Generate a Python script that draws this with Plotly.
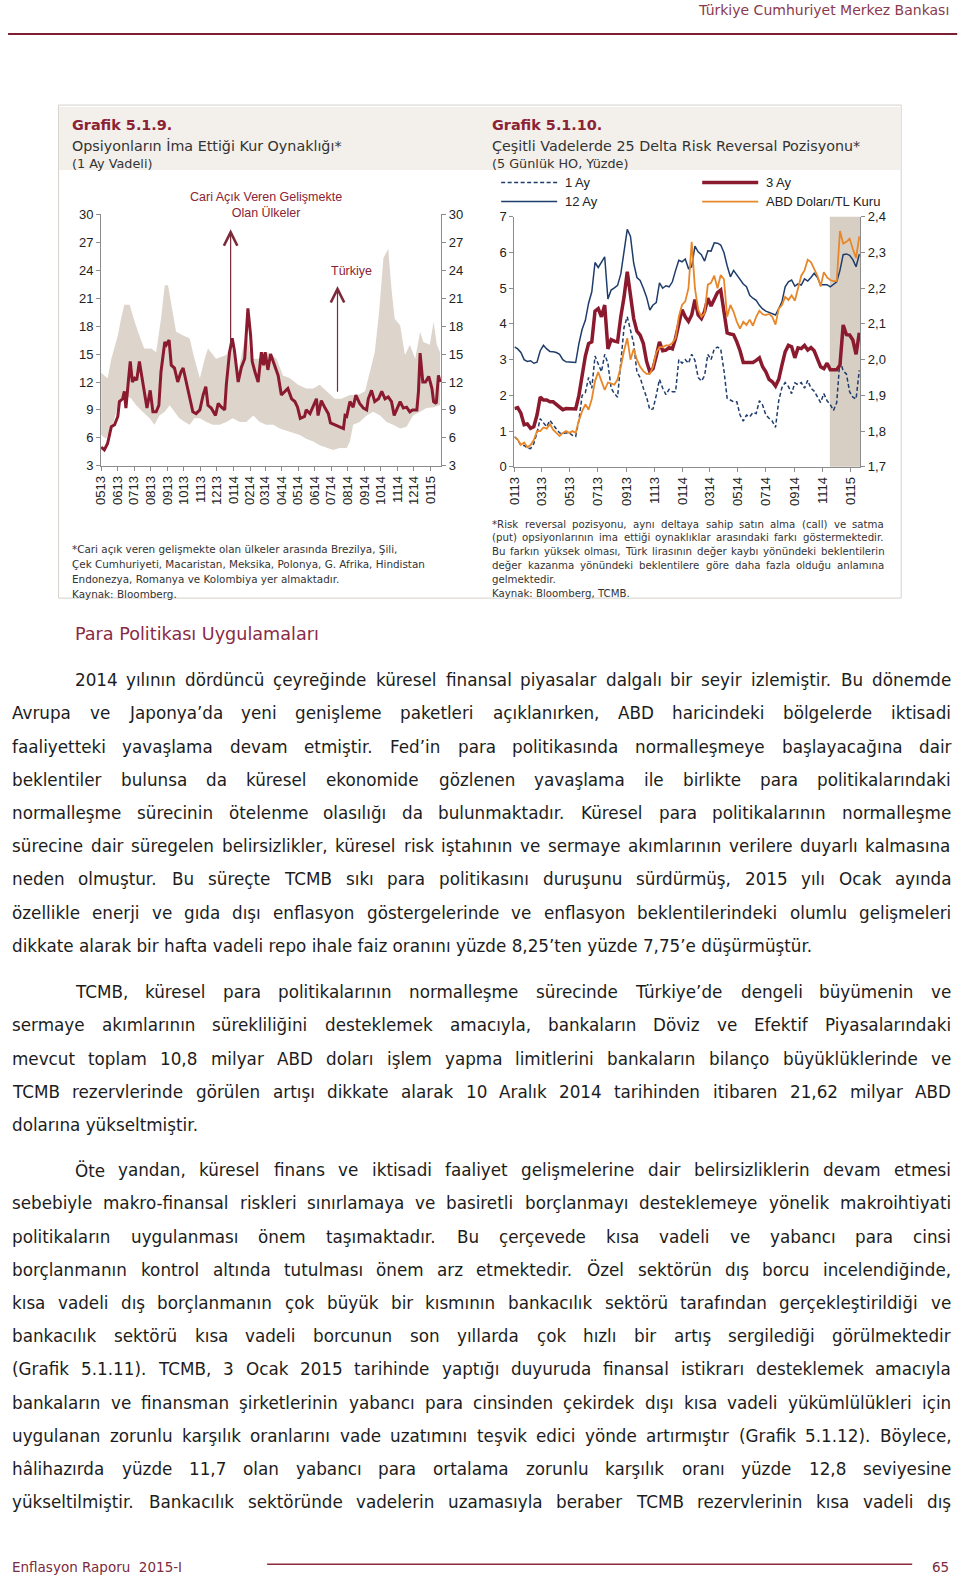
"""
TCMB Enflasyon Raporu 2015-I, sayfa 65: Grafik 5.1.9 ve 5.1.10 ile metin.
"""

import pandas as pd
import plotly.graph_objects as go

FIG_W = 960
FIG_H = 1595
# the photo of the page comes out slightly shrunk and offset; page positions below are
# mapped into figure pixels with the measured offset and scale
PHOTO_SCALE_X = 0.9915
PHOTO_SCALE_Y = 0.9905
PHOTO_OFFSET_X = 8
PHOTO_OFFSET_Y = 7

# ~~~~ Grafik 5.1.9: Türkiye ve cari açık veren GOÜ'ler (1 ay vadeli ima edilen oynaklık)
TR_DATES = [
    "2013-05-01", "2013-05-07", "2013-05-13", "2013-05-20", "2013-05-26", "2013-06-01",
    "2013-06-04", "2013-06-10", "2013-06-13", "2013-06-16", "2013-06-21", "2013-06-24",
    "2013-06-28", "2013-07-02", "2013-07-06", "2013-07-11", "2013-07-16", "2013-07-22",
    "2013-07-25", "2013-07-31", "2013-08-05", "2013-08-11", "2013-08-16", "2013-08-20",
    "2013-08-27", "2013-08-30", "2013-09-04", "2013-09-08", "2013-09-14", "2013-09-20",
    "2013-09-26", "2013-09-30", "2013-10-06", "2013-10-12", "2013-10-18", "2013-10-24",
    "2013-10-31", "2013-11-06", "2013-11-11", "2013-11-15", "2013-11-21", "2013-11-29",
    "2013-12-04", "2013-12-10", "2013-12-16", "2013-12-19", "2013-12-25", "2013-12-30",
    "2014-01-03", "2014-01-10", "2014-01-16", "2014-01-22", "2014-01-26", "2014-01-28",
    "2014-02-02", "2014-02-05", "2014-02-10", "2014-02-16", "2014-02-22", "2014-02-26",
    "2014-03-01", "2014-03-06", "2014-03-11", "2014-03-19", "2014-03-25", "2014-03-31",
    "2014-04-06", "2014-04-12", "2014-04-19", "2014-04-25", "2014-04-30", "2014-05-05",
    "2014-05-13", "2014-05-16", "2014-05-23", "2014-05-29", "2014-06-04", "2014-06-07",
    "2014-06-13", "2014-06-20", "2014-06-26", "2014-06-30", "2014-07-08", "2014-07-17",
    "2014-07-24", "2014-07-27", "2014-07-30", "2014-08-05", "2014-08-11", "2014-08-16",
    "2014-08-23", "2014-08-30", "2014-09-05", "2014-09-08", "2014-09-14", "2014-09-20",
    "2014-09-27", "2014-10-03", "2014-10-09", "2014-10-15", "2014-10-21", "2014-10-26",
    "2014-10-29", "2014-11-06", "2014-11-12", "2014-11-18", "2014-11-24", "2014-11-29",
    "2014-12-07", "2014-12-10", "2014-12-13", "2014-12-18", "2014-12-23", "2014-12-29",
    "2015-01-04", "2015-01-07", "2015-01-12", "2015-01-16", "2015-01-19",
]
TR_VALUES = [
    5.0, 4.7, 5.4, 7.2, 7.4, 8.3,
    9.9, 10.2, 11.0, 9.2, 12.4, 14.2,
    12.0, 12.4, 12.2, 14.2, 12.4, 10.2,
    9.2, 11.1, 8.8, 8.8, 9.5, 13.1,
    16.3, 16.0, 16.5, 13.8, 13.5, 12.0,
    13.1, 13.5, 12.0, 10.4, 8.8, 8.6,
    9.0, 10.6, 11.5, 9.5, 9.2, 8.4,
    9.7, 9.3, 9.0, 11.7, 15.2, 16.7,
    15.4, 12.0, 13.6, 14.5, 18.1, 19.9,
    17.0, 14.2, 13.1, 12.0, 15.2, 13.8,
    15.2, 13.3, 15.0, 13.8, 12.7, 10.6,
    11.0, 11.3, 10.2, 9.9, 9.3, 8.1,
    8.3, 9.0, 8.6, 9.5, 10.2, 8.4,
    10.0, 9.2, 8.6, 7.6, 7.4, 7.2,
    7.0, 8.4, 8.3, 9.9, 9.3, 10.6,
    9.7, 9.2, 9.0, 10.2, 11.1, 9.9,
    10.2, 11.0, 10.2, 10.4, 9.9, 8.4,
    8.8, 9.9, 9.2, 9.3, 8.8, 9.0,
    9.0, 11.0, 15.1, 12.0, 12.0, 12.6,
    11.3, 9.9, 9.7, 12.7, 12.0,
]

BAND_UP_DATES = [
    "2013-05-01", "2013-05-13", "2013-05-20", "2013-06-01", "2013-06-07", "2013-06-13",
    "2013-06-23", "2013-07-02", "2013-07-11", "2013-07-20", "2013-08-02", "2013-08-11",
    "2013-08-20", "2013-08-27", "2013-09-02", "2013-09-08", "2013-09-17", "2013-09-30",
    "2013-10-12", "2013-10-21", "2013-10-31", "2013-11-09", "2013-11-15", "2013-11-30",
    "2013-12-19", "2013-12-28", "2014-01-10", "2014-01-25", "2014-02-03", "2014-02-19",
    "2014-03-06", "2014-03-22", "2014-04-03", "2014-04-16", "2014-05-01", "2014-05-16",
    "2014-05-29", "2014-06-10", "2014-06-23", "2014-07-08", "2014-07-20", "2014-08-05",
    "2014-08-20", "2014-09-02", "2014-09-11", "2014-09-20", "2014-09-28", "2014-10-06",
    "2014-10-15", "2014-10-21", "2014-10-27", "2014-11-06", "2014-11-15", "2014-11-24",
    "2014-12-04", "2014-12-13", "2014-12-19", "2014-12-31", "2015-01-07", "2015-01-13",
    "2015-01-19",
]
BAND_UP_VALUES = [
    13.0, 12.4, 14.5, 17.0, 18.8, 20.3,
    20.3, 18.5, 17.0, 15.6, 15.6, 15.2,
    18.8, 22.4, 22.4, 20.3, 17.4, 17.0,
    16.7, 14.5, 12.4, 14.5, 15.6, 14.5,
    14.9, 16.0, 13.1, 17.4, 14.5, 14.5,
    15.2, 14.5, 12.7, 12.4, 11.7, 11.3,
    11.3, 11.7, 11.0, 10.2, 10.2, 10.6,
    10.6, 11.0, 13.1, 15.2, 19.5, 25.3,
    26.3, 22.0, 18.8, 18.1, 14.9, 16.0,
    14.5, 17.4, 16.3, 16.0, 18.5, 16.0,
    15.2,
]
BAND_LO_DATES = [
    "2013-05-01", "2013-05-10", "2013-05-23", "2013-06-01", "2013-06-10", "2013-06-16",
    "2013-06-26", "2013-07-05", "2013-07-17", "2013-07-30", "2013-08-08", "2013-08-17",
    "2013-08-27", "2013-09-05", "2013-09-14", "2013-09-23", "2013-10-03", "2013-10-12",
    "2013-10-21", "2013-10-31", "2013-11-12", "2013-11-24", "2013-12-07", "2013-12-19",
    "2013-12-31", "2014-01-13", "2014-01-25", "2014-02-07", "2014-02-19", "2014-03-03",
    "2014-03-16", "2014-03-28", "2014-04-09", "2014-04-22", "2014-05-04", "2014-05-16",
    "2014-05-29", "2014-06-10", "2014-06-23", "2014-07-05", "2014-07-17", "2014-07-30",
    "2014-08-05", "2014-08-11", "2014-08-23", "2014-09-05", "2014-09-17", "2014-09-30",
    "2014-10-12", "2014-10-24", "2014-11-06", "2014-11-18", "2014-11-30", "2014-12-13",
    "2014-12-25", "2015-01-07", "2015-01-19",
]
BAND_LO_VALUES = [
    6.3, 5.9, 7.4, 9.5, 10.2, 10.6,
    10.2, 9.5, 8.8, 8.1, 7.4, 8.4,
    8.8, 9.5, 8.8, 8.1, 7.7, 7.4,
    8.1, 8.1, 7.7, 7.4, 7.4, 7.7,
    8.1, 7.7, 7.7, 8.4, 7.7, 7.4,
    7.4, 7.0, 6.8, 6.5, 6.3, 5.9,
    5.6, 5.2, 4.9, 4.7, 4.9, 4.9,
    5.6, 7.4, 7.7, 8.4, 8.8, 8.4,
    7.7, 7.4, 7.0, 7.2, 8.4, 8.8,
    9.2, 9.3, 9.5,
]
LEFT_X_RANGE = ["2013-05-01", "2015-01-21"]

# ~~~~ Grafik 5.1.10: 25 delta risk reversal (haftalık okumalar) ve ABD doları/TL
RR_START = "2013-01-01"
RR_WEEKS = 108
RR_12M = [
    3.36, 3.30, 3.20, 3.00, 2.95, 2.97, 2.90, 2.93, 3.25, 3.40,
    3.30, 3.23, 3.22, 3.20, 3.15, 3.00, 2.94, 2.93, 2.92, 2.92,
    3.45, 3.85, 4.10, 4.58, 4.90, 5.72, 5.58, 5.74, 5.88, 4.70,
    4.95, 5.01, 5.08, 5.40, 6.10, 6.65, 6.45, 5.70, 5.30, 5.22,
    5.00, 4.75, 4.39, 4.53, 4.60, 5.15, 5.00, 5.07, 5.04, 5.18,
    5.50, 5.78, 5.74, 5.82, 5.55, 5.60, 6.18, 6.02, 5.94, 5.76,
    6.05, 6.04, 6.27, 6.26, 6.21, 6.00, 5.63, 5.32, 5.50, 5.37,
    5.23, 5.12, 5.04, 4.80, 4.72, 4.66, 4.52, 4.42, 4.36, 4.32,
    4.29, 4.25, 4.43, 4.62, 5.04, 5.18, 5.23, 5.06, 5.12, 5.09,
    5.26, 5.20, 5.30, 5.42, 5.30, 5.10, 5.10, 5.10, 5.04, 5.10,
    5.18, 5.50, 5.94, 5.96, 5.92, 5.80, 5.60, 5.95,
]
RR_3M = [
    1.63, 1.66, 1.50, 1.18, 1.20, 1.08, 1.12, 1.45, 1.95, 1.87,
    1.87, 1.82, 1.82, 1.75, 1.70, 1.60, 1.63, 1.63, 1.61, 1.62,
    2.00, 2.60, 3.10, 3.45, 3.50, 4.36, 4.43, 4.20, 4.53, 3.30,
    3.56, 3.52, 3.50, 4.20, 4.75, 5.46, 4.80, 4.15, 3.80, 3.69,
    3.45, 2.95, 2.66, 2.75, 3.10, 3.50, 3.25, 3.27, 3.34, 3.30,
    3.60, 4.05, 4.40, 4.20, 4.07, 4.25, 4.68, 4.25, 4.15, 4.35,
    4.72, 4.50, 4.70, 4.88, 4.95, 4.30, 3.75, 3.72, 3.70, 3.50,
    3.25, 2.92, 2.92, 2.90, 2.92, 2.98, 3.05, 2.80, 2.66, 2.45,
    2.38, 2.26, 2.45, 2.85, 3.22, 3.40, 3.36, 3.05, 3.33, 3.31,
    3.40, 3.27, 3.34, 3.25, 3.00, 2.80, 2.75, 2.90, 2.72, 2.71,
    2.72, 2.85, 3.97, 3.70, 3.69, 3.55, 3.15, 3.75,
]
RR_1M = [
    0.84, 0.76, 0.60, 0.60, 0.52, 0.51, 0.65, 0.95, 1.35, 1.25,
    1.12, 1.30, 1.17, 1.06, 0.95, 0.93, 0.95, 0.95, 0.88, 0.85,
    1.30, 2.00, 2.08, 2.50, 2.20, 3.10, 2.88, 2.66, 3.15, 2.90,
    2.20, 2.05, 1.95, 2.90, 3.90, 4.20, 3.85, 3.45, 2.65, 2.50,
    2.20, 1.95, 1.60, 1.62, 2.00, 2.45, 2.20, 2.02, 2.17, 2.10,
    2.10, 3.00, 2.90, 3.00, 2.90, 3.15, 2.98, 2.50, 2.40, 2.55,
    3.15, 3.00, 3.30, 3.35, 3.30, 2.70, 1.92, 1.87, 1.82, 1.82,
    1.45, 1.28, 1.45, 1.40, 1.52, 1.49, 1.85, 1.73, 1.45, 1.36,
    1.28, 1.10, 1.85, 2.22, 2.36, 2.25, 2.05, 2.35, 2.30, 2.36,
    2.20, 2.42, 2.20, 2.12, 1.95, 1.80, 2.05, 1.85, 1.74, 1.58,
    1.80, 3.00, 2.68, 2.60, 2.10, 1.95, 1.90, 2.70,
]
USDTRY = [
    1.784, 1.776, 1.762, 1.768, 1.755, 1.761, 1.775, 1.800, 1.800, 1.810,
    1.807, 1.820, 1.804, 1.795, 1.786, 1.795, 1.800, 1.795, 1.800, 1.795,
    1.830, 1.856, 1.875, 1.860, 1.890, 1.940, 1.965, 1.940, 1.915, 1.936,
    1.932, 1.930, 1.945, 1.980, 2.025, 2.060, 2.000, 2.030, 2.000, 1.980,
    1.968, 1.960, 1.960, 1.980, 2.020, 2.035, 2.035, 2.040, 2.040, 2.047,
    2.060, 2.120, 2.153, 2.163, 2.200, 2.330, 2.200, 2.140, 2.120, 2.130,
    2.210, 2.215, 2.235, 2.200, 2.237, 2.225, 2.120, 2.153, 2.134, 2.106,
    2.087, 2.106, 2.097, 2.112, 2.095, 2.120, 2.137, 2.127, 2.125, 2.128,
    2.120, 2.098, 2.143, 2.153, 2.176, 2.167, 2.180, 2.165, 2.200, 2.235,
    2.250, 2.280, 2.273, 2.255, 2.235, 2.205, 2.245, 2.230, 2.223, 2.220,
    2.220, 2.360, 2.325, 2.330, 2.339, 2.310, 2.285, 2.345,
]
RIGHT_X_RANGE = ["2013-01-01", "2015-01-22"]
SHADE_RANGE = ["2014-11-17", "2015-01-22"]

# ~~~~ page text
HEADER = "Türkiye Cumhuriyet Merkez Bankası"
FOOTER_LEFT = "Enflasyon Raporu  2015-I"
FOOTER_PAGE = "65"
HEADING = "Para Politikası Uygulamaları"

LEFT_TITLE = ["Grafik 5.1.9.", "Opsiyonların İma Ettiği Kur Oynaklığı*", "(1 Ay Vadeli)"]
RIGHT_TITLE = ["Grafik 5.1.10.", "Çeşitli Vadelerde 25 Delta Risk Reversal Pozisyonu*",
               "(5 Günlük HO, Yüzde)"]
LEFT_NOTES = [
    "*Cari açık veren gelişmekte olan ülkeler arasında Brezilya, Şili,",
    "Çek Cumhuriyeti, Macaristan, Meksika, Polonya, G. Afrika, Hindistan",
    "Endonezya, Romanya ve Kolombiya yer almaktadır.",
    "Kaynak: Bloomberg.",
]
RIGHT_NOTES = [
    "*Risk reversal pozisyonu, aynı deltaya sahip satın alma (call) ve satma",
    "(put) opsiyonlarının ima ettiği oynaklıklar arasındaki farkı göstermektedir.",
    "Bu farkın yüksek olması, Türk lirasının değer kaybı yönündeki beklentilerin",
    "değer kazanma yönündeki beklentilere göre daha fazla olduğu anlamına",
    "gelmektedir.",
    "Kaynak: Bloomberg, TCMB.",
]
PARAGRAPHS = [
    [
        "2014 yılının dördüncü çeyreğinde küresel finansal piyasalar dalgalı bir seyir izlemiştir. Bu dönemde",
        "Avrupa ve Japonya’da yeni genişleme paketleri açıklanırken, ABD haricindeki bölgelerde iktisadi",
        "faaliyetteki yavaşlama devam etmiştir. Fed’in para politikasında normalleşmeye başlayacağına dair",
        "beklentiler bulunsa da küresel ekonomide gözlenen yavaşlama ile birlikte para politikalarındaki",
        "normalleşme sürecinin ötelenme olasılığı da bulunmaktadır. Küresel para politikalarının normalleşme",
        "sürecine dair süregelen belirsizlikler, küresel risk iştahının ve sermaye akımlarının verilere duyarlı kalmasına",
        "neden olmuştur. Bu süreçte TCMB sıkı para politikasını duruşunu sürdürmüş, 2015 yılı Ocak ayında",
        "özellikle enerji ve gıda dışı enflasyon göstergelerinde ve enflasyon beklentilerindeki olumlu gelişmeleri",
        "dikkate alarak bir hafta vadeli repo ihale faiz oranını yüzde 8,25’ten yüzde 7,75’e düşürmüştür.",
    ],
    [
        "TCMB, küresel para politikalarının normalleşme sürecinde Türkiye’de dengeli büyümenin ve",
        "sermaye akımlarının sürekliliğini desteklemek amacıyla, bankaların Döviz ve Efektif Piyasalarındaki",
        "mevcut toplam 10,8 milyar ABD doları işlem yapma limitlerini bankaların bilanço büyüklüklerinde ve",
        "TCMB rezervlerinde görülen artışı dikkate alarak 10 Aralık 2014 tarihinden itibaren 21,62 milyar ABD",
        "dolarına yükseltmiştir.",
    ],
    [
        "Öte yandan, küresel finans ve iktisadi faaliyet gelişmelerine dair belirsizliklerin devam etmesi",
        "sebebiyle makro-finansal riskleri sınırlamaya ve basiretli borçlanmayı desteklemeye yönelik makroihtiyati",
        "politikaların uygulanması önem taşımaktadır. Bu çerçevede kısa vadeli ve yabancı para cinsi",
        "borçlanmanın kontrol altında tutulması önem arz etmektedir. Özel sektörün dış borcu incelendiğinde,",
        "kısa vadeli dış borçlanmanın çok büyük bir kısmının bankacılık sektörü tarafından gerçekleştirildiği ve",
        "bankacılık sektörü kısa vadeli borcunun son yıllarda çok hızlı bir artış sergilediği görülmektedir",
        "(Grafik 5.1.11). TCMB, 3 Ocak 2015 tarihinde yaptığı duyuruda finansal istikrarı desteklemek amacıyla",
        "bankaların ve finansman şirketlerinin yabancı para cinsinden çekirdek dışı kısa vadeli yükümlülükleri için",
        "uygulanan zorunlu karşılık oranlarını vade uzatımını teşvik edici yönde artırmıştır (Grafik 5.1.12). Böylece,",
        "hâlihazırda yüzde 11,7 olan yabancı para ortalama zorunlu karşılık oranı yüzde 12,8 seviyesine",
        "yükseltilmiştir. Bankacılık sektöründe vadelerin uzamasıyla beraber TCMB rezervlerinin kısa vadeli dış",
    ],
]
PARAGRAPH_TOPS = [680, 992, 1170]
LINE_STEP = 33.2
# last line of a paragraph is not justified (the page cut keeps the last one justified)
PARAGRAPH_ENDS = [True, True, False]

MAROON = "#8b1a2f"
TITLE_RED = "#8b2335"
NAVY = "#1f3d6b"
ORANGE = "#e8872a"
BAND = "#ddd5cc"
SHADE = "#d8cfc4"
TEXT = "#1c1c1c"
BODY_FONT = "DejaVu Sans"
CHART_FONT = "Arial, Liberation Sans, sans-serif"

# approximate DejaVu Sans advance widths (em) for justification
CHAR_W = {" ": .318, ",": .318, ".": .318, "’": .318, "'": .275, "(": .390, ")": .390,
          "-": .361, "/": .337, "*": .5, ":": .337}
CHAR_W.update({c: .636 for c in "0123456789"})
CHAR_W.update(dict(zip("abcdefghijklmnopqrstuvwxyz",
                       [.613, .635, .550, .635, .615, .352, .635, .634, .278, .278, .579, .278, .974,
                        .634, .612, .635, .635, .411, .521, .392, .634, .592, .818, .592, .592, .525])))
CHAR_W.update(dict(zip("ABCDEFGHIJKLMNOPRSTUVYZ",
                       [.684, .686, .698, .770, .632, .575, .775, .752, .295, .295, .656, .557, .863,
                        .748, .787, .603, .695, .635, .611, .732, .684, .611, .685])))
CHAR_W.update({"ı": .278, "İ": .295, "ç": .550, "Ç": .698, "ğ": .635, "ö": .612, "Ö": .787,
               "ş": .521, "Ş": .635, "ü": .634, "Ü": .732, "â": .613})


def em_width(word):
    return sum(CHAR_W.get(ch, .6) for ch in word)


def fx(x):
    """page pixel -> paper x"""
    return (x / PHOTO_SCALE_X - PHOTO_OFFSET_X) / FIG_W


def fy(y):
    """page pixel -> paper y"""
    return 1 - (y / PHOTO_SCALE_Y - PHOTO_OFFSET_Y) / FIG_H


def add_text(fig, text, x, y, size, color, family=BODY_FONT, anchor="left", bold=False):
    if bold:
        text = "<b>" + text + "</b>"
    fig.add_annotation(x=fx(x), y=fy(y), xref="paper", yref="paper", text=text, showarrow=False,
                       xanchor=anchor, yanchor="middle", borderpad=0,
                       font=dict(size=size, color=color, family=family))


def add_line_text(fig, text, x0, x1, y, size, color, justify=True):
    """place one printed line, spreading the words over [x0, x1] when justified"""
    words = text.split(" ")
    if not justify or len(words) < 2:
        add_text(fig, text, x0, y, size, color)
        return
    base = [em_width(w) for w in words]
    total = sum(base)
    min_gap = 0.22
    if (total + min_gap * (len(words) - 1)) * size > x1 - x0:
        size = (x1 - x0) / (total + min_gap * (len(words) - 1))
    gap = (x1 - x0 - total * size) / (len(words) - 1)
    xpos = x0
    for word, width in zip(words, base):
        add_text(fig, word, xpos, y, size, color)
        xpos += width * size + gap


def page_line(fig, x0, x1, y, color, width, dash="solid"):
    fig.add_shape(type="line", xref="paper", yref="paper", x0=fx(x0), x1=fx(x1),
                  y0=fy(y), y1=fy(y), line=dict(color=color, width=width, dash=dash))


def main():
    """main program"""
    rr_dates = pd.date_range(RR_START, periods=RR_WEEKS, freq="7D")

    fig = go.Figure()

    # ~~~~ left chart
    fig.add_trace(go.Scatter(
        x=BAND_UP_DATES + BAND_LO_DATES[::-1],
        y=BAND_UP_VALUES + BAND_LO_VALUES[::-1],
        fill="toself", fillcolor=BAND, line=dict(width=0), mode="lines",
        name="Cari Açık Veren Gelişmekte Olan Ülkeler", xaxis="x", yaxis="y"))
    fig.add_trace(go.Scatter(
        x=TR_DATES, y=TR_VALUES, mode="lines", name="Türkiye",
        line=dict(color=MAROON, width=3), xaxis="x", yaxis="y2"))

    # ~~~~ right chart
    fig.add_trace(go.Scatter(x=rr_dates, y=RR_12M, mode="lines", name="12 Ay",
                             line=dict(color=NAVY, width=1.5), xaxis="x2", yaxis="y3"))
    fig.add_trace(go.Scatter(x=rr_dates, y=RR_1M, mode="lines", name="1 Ay",
                             line=dict(color=NAVY, width=1.5, dash="4px,2.5px"),
                             xaxis="x2", yaxis="y3"))
    fig.add_trace(go.Scatter(x=rr_dates, y=USDTRY, mode="lines", name="ABD Doları/TL Kuru",
                             line=dict(color=ORANGE, width=1.8), xaxis="x2", yaxis="y4"))
    fig.add_trace(go.Scatter(x=rr_dates, y=RR_3M, mode="lines", name="3 Ay",
                             line=dict(color=MAROON, width=3.5), xaxis="x2", yaxis="y3"))

    axis_common = dict(showline=True, linecolor="#8c8c8c", linewidth=1, ticks="outside",
                       ticklen=4, tickcolor="#8c8c8c", showgrid=False, zeroline=False,
                       tickfont=dict(family=CHART_FONT, size=13, color="#222222"))
    x_common = dict(axis_common, type="date", tickformat="%m%y", tickangle=-90)

    fig.update_layout(
        width=FIG_W, height=FIG_H, margin=dict(l=0, r=0, t=0, b=0),
        paper_bgcolor="white", plot_bgcolor="rgba(0,0,0,0)", showlegend=False,
        separators=", ",
        xaxis=dict(x_common, domain=[fx(101), fx(441)], range=LEFT_X_RANGE,
                   dtick="M1", tick0="2013-05-01", anchor="y"),
        yaxis=dict(axis_common, domain=[fy(465.7), fy(214.3)],
                   range=[3, 30], dtick=3, anchor="x"),
        yaxis2=dict(axis_common, overlaying="y", side="right", range=[3, 30], dtick=3,
                    anchor="x"),
        xaxis2=dict(x_common, domain=[fx(514.3), fx(860)], range=RIGHT_X_RANGE,
                    dtick="M2", tick0="2013-01-01", anchor="y3"),
        yaxis3=dict(axis_common, domain=[fy(466.7), fy(216.7)],
                    range=[0, 7], dtick=1, anchor="x2"),
        yaxis4=dict(axis_common, overlaying="y3", side="right", range=[1.7, 2.4], dtick=0.1,
                    tickformat=".1f", anchor="x2"),
    )

    # ~~~~ page frame
    page_line(fig, 8, 957, 34, "#7d1f31", 2)
    fig.add_shape(type="rect", xref="paper", yref="paper", layer="below",
                  x0=fx(58.5), x1=fx(901), y0=fy(598), y1=fy(105),
                  line=dict(color="#d6d1cb", width=1), fillcolor="white")
    fig.add_shape(type="rect", xref="paper", yref="paper", layer="below",
                  x0=fx(59), x1=fx(900.5), y0=fy(170), y1=fy(107),
                  line=dict(width=0), fillcolor="#f3f0ec")
    fig.add_shape(type="rect", xref="x2", yref="y3 domain", layer="below",
                  x0=SHADE_RANGE[0], x1=SHADE_RANGE[1], y0=0, y1=1,
                  line=dict(width=0), fillcolor=SHADE)
    page_line(fig, 267, 912, 1564, "#8b2a3a", 1.5)

    add_text(fig, HEADER, 950, 9.5, 14, "#8a3a4c", anchor="right")
    add_text(fig, FOOTER_LEFT, 11, 1567, 13.5, "#7a2c3e")
    add_text(fig, FOOTER_PAGE, 950, 1567, 13.5, "#7a2c3e", anchor="right")

    # ~~~~ chart titles and notes
    for title, x0 in ((LEFT_TITLE, 71), (RIGHT_TITLE, 491)):
        add_text(fig, title[0], x0, 124.5, 14.4, TITLE_RED, bold=True)
        add_text(fig, title[1], x0, 145.5, 14.3, "#333333")
        add_text(fig, title[2], x0, 163, 12.8, "#333333")

    for i, note in enumerate(LEFT_NOTES):
        add_text(fig, note, 71, 549 + i * 15, 10.4, "#333333")
    for i, note in enumerate(RIGHT_NOTES):
        add_line_text(fig, note, 491, 883, 524 + i * 13.8, 10.2, "#333333", justify=i < 4)

    # ~~~~ chart 5.1.9 annotations
    add_text(fig, "Cari Açık Veren Gelişmekte<br>Olan Ülkeler", 266, 205, 12.5, TITLE_RED,
             family=CHART_FONT, anchor="center")
    add_text(fig, "Türkiye", 351, 271, 12.5, TITLE_RED, family=CHART_FONT, anchor="center")
    for tip, tail in ((("2013-12-27", 28.4), ("2013-12-27", 15.6)),
                      (("2014-07-13", 22.3), ("2014-07-13", 10.8))):
        fig.add_annotation(x=tip[0], y=tip[1], ax=tail[0], ay=tail[1], xref="x", yref="y",
                           axref="x", ayref="y", text="", showarrow=True, arrowhead=5,
                           arrowsize=2.2, arrowwidth=1.2, arrowcolor="#7a2a3a", standoff=0)

    # ~~~~ chart 5.1.10 legend
    legend_items = [("1 Ay", NAVY, 1.5, "4px,2.5px", 501, 182.5),
                    ("12 Ay", NAVY, 1.5, "solid", 501, 201.5),
                    ("3 Ay", MAROON, 3.5, "solid", 702, 182.5),
                    ("ABD Doları/TL Kuru", ORANGE, 1.8, "solid", 702, 201.5)]
    for label, color, width, dash, x0, y0 in legend_items:
        page_line(fig, x0, x0 + 56, y0, color, width, dash)
        add_text(fig, label, x0 + 63, y0, 13, "#222222", family=CHART_FONT)

    # ~~~~ body text
    add_text(fig, HEADING, 73.5, 634, 17.6, "#8b2a45")
    body_size = 16.8
    for lines, top, ends in zip(PARAGRAPHS, PARAGRAPH_TOPS, PARAGRAPH_ENDS):
        for i, line in enumerate(lines):
            x0 = 73.5 if i == 0 else 11
            last = ends and i == len(lines) - 1
            add_line_text(fig, line, x0, 950, top + i * LINE_STEP, body_size, TEXT,
                          justify=not last)

    fig.write_html("out.html", config={"displayModeBar": False},
                   post_script="document.body.style.margin='0';")


if __name__ == "__main__":
    main()
